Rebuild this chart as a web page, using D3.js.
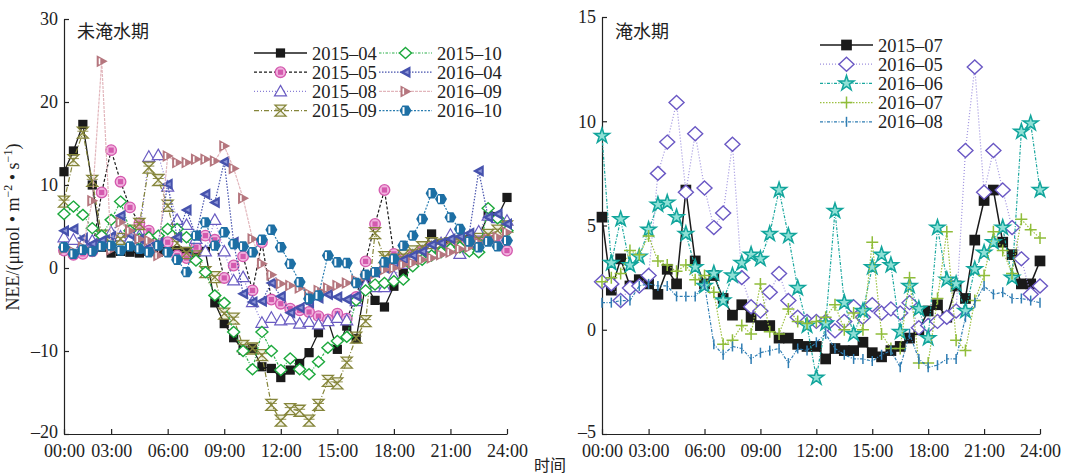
<!DOCTYPE html>
<html>
<head>
<meta charset="utf-8">
<title>NEE diurnal</title>
<script src="https://d3js.org/d3.v7.min.js"></script>
<style>
body { margin: 0; background: #fff; }
text { font-family: "Liberation Serif", "Times New Roman", serif; fill: #222; }
.cjk { font-family: "Noto Sans CJK SC", sans-serif; }
.axis path, .axis line { stroke: #222; stroke-width: 1.2; }
.axis text { font-size: 18px; }
</style>
</head>
<body>
<svg id="chart" width="1066" height="476"></svg>
<script>
// half-hourly observations, 00:30 .. 24:00
var halfHours = d3.range(1, 49).map(function (k) { return k / 2; });
var xTickHours = [0.5, 3, 6, 9, 12, 15, 18, 21, 24];
var xTickLabels = ["00:00", "03:00", "06:00", "09:00", "12:00", "15:00", "18:00", "21:00", "24:00"];
var leftYTicks = [-20, -10, 0, 10, 20, 30];
var rightYTicks = [-5, 0, 5, 10, 15];

// 未淹水期
var leftNames = ["2015–04", "2015–05", "2015–08", "2015–09", "2015–10", "2016–04", "2016–09", "2016–10"];
var nee201504 = [11.6,14.1,17.3,10.0,2.5,1.8,2.0,1.9,1.8,2.0,1.9,2.0,2.1,2.0,1.9,2.0,-4.2,-6.7,-8.4,-9.9,-9.7,-11.9,-12.1,-13.2,-12.3,-11.5,-10.2,-7.8,-6.3,-9.8,-7.0,-8.5,-2.0,-3.9,-4.7,-2.2,-0.5,1.0,2.0,4.1,2.8,3.2,3.0,3.4,3.8,6.3,6.2,8.5];
var nee201505 = [2.1,1.6,1.7,2.0,9.1,14.2,10.4,7.3,5.4,4.5,3.5,3.1,1.5,1.2,2.5,3.9,3.4,-1.2,0.3,1.4,-2.7,3.1,-3.8,-4.3,-4.9,-5.1,-5.3,-5.8,-6.2,-5.5,-6.1,-3.5,0.8,5.3,9.4,1.7,1.0,1.5,2.0,2.5,2.0,2.5,3.0,3.2,3.5,3.4,3.3,2.1];
var nee201508 = [3.7,3.4,3.0,3.3,3.8,4.3,3.8,3.5,3.9,13.4,13.6,9.8,5.8,5.2,3.5,2.0,5.8,2.0,-1.5,-1.1,-4.1,-6.6,-6.0,-6.3,-6.2,-6.7,-6.5,-6.8,-6.4,-6.0,-6.3,-4.0,-2.0,-2.3,-2.3,-1.0,0.5,1.5,2.0,2.5,3.0,4.0,1.7,2.5,4.4,6.3,6.0,5.7];
var nee201509 = [8.0,13.0,16.3,10.5,3.9,3.0,3.5,4.5,5.3,12.1,10.6,7.5,3.0,1.8,1.4,-0.5,-1.1,-5.5,-6.1,-9.4,-9.7,-10.5,-16.5,-18.4,-17.0,-17.2,-18.4,-16.5,-13.6,-13.9,-11.4,-8.4,-6.4,4.2,1.3,1.0,1.5,2.0,2.5,3.0,2.8,3.0,3.2,3.0,3.5,4.0,4.5,5.0];
var nee201510 = [6.5,7.4,6.4,4.8,3.9,5.8,8.0,4.5,3.5,3.7,3.9,4.7,4.7,3.7,0.9,-0.5,-3.3,-4.2,-7.7,-10.0,-12.2,-7.7,-10.0,-12.3,-10.9,-12.2,-12.8,-11.3,-9.6,-8.8,-8.3,-3.9,-2.7,-2.0,-1.8,-1.6,-1.4,0.2,1.0,1.5,1.9,2.3,2.5,2.0,1.9,7.2,6.0,4.5];
var nee201604 = [4.5,4.7,3.6,2.9,3.3,3.8,6.3,4.0,3.5,2.5,3.0,10.1,3.7,7.0,3.9,8.9,7.9,12.8,3.1,-3.1,-4.1,-4.0,-1.8,-3.4,-5.4,-4.8,-4.2,-3.6,-3.2,-3.5,-3.8,-3.4,-1.0,-0.5,0.0,0.5,1.0,1.5,2.0,2.8,3.0,3.5,3.8,4.2,11.7,6.1,6.5,5.3];
var nee201609 = [2.3,2.0,2.5,8.1,24.9,2.2,5.5,4.5,3.5,3.3,1.5,13.5,12.7,12.7,13.1,13.1,12.9,14.7,12.0,8.4,3.5,0.5,-0.8,-1.9,-2.1,-2.4,-3.1,-2.7,-2.4,-2.1,-1.8,-1.5,-1.0,-0.7,-0.2,0.0,0.4,0.6,1.0,1.2,1.6,1.9,2.3,2.5,3.0,3.4,3.7,4.3];
var nee201610 = [2.5,1.7,2.2,2.0,2.6,2.7,2.1,2.6,2.3,1.9,2.7,1.9,1.0,-0.5,3.9,5.5,2.7,4.3,2.9,2.6,1.9,3.4,4.6,2.5,0.5,-1.7,-3.7,-3.3,1.5,0.7,0.6,-1.8,-0.8,-0.5,0.7,1.1,2.7,3.9,5.9,9.0,8.3,6.1,4.7,3.2,2.5,3.2,2.6,3.3];

// 淹水期
var rightNames = ["2015–07", "2016–05", "2016–06", "2016–07", "2016–08"];
var nee201507 = [5.4,1.9,3.4,2.1,2.4,2.2,1.7,2.9,2.2,6.7,3.3,2.2,2.6,1.5,0.7,1.2,0.6,0.2,0.2,-0.4,-0.4,-0.7,-0.8,-0.8,-1.4,-0.9,-1.0,-1.0,-0.6,-1.1,-1.3,-1.0,-0.8,-0.4,0.0,0.9,1.2,0.6,2.1,1.5,4.3,6.2,6.7,4.2,3.6,2.2,2.2,3.3];
var nee201605 = [2.3,2.2,1.4,2.0,2.1,2.6,7.5,9.0,10.9,6.6,9.4,6.8,4.9,5.6,8.9,2.5,1.1,0.9,1.8,2.7,1.4,0.6,0.4,0.4,0.4,-0.05,0.4,1.1,0.6,1.2,0.8,1.0,0.8,1.3,0.1,0.2,0.4,0.6,0.9,8.6,12.6,6.6,8.6,6.7,4.9,3.4,1.7,2.1];
var nee201606 = [9.3,3.2,5.3,3.1,3.5,4.8,6.0,6.1,5.4,4.6,3.0,2.1,2.7,1.4,2.6,3.2,3.6,3.4,4.6,6.7,4.5,2.0,0.2,-2.3,0.3,5.7,1.3,-0.2,0.9,3.0,3.6,3.1,-0.1,2.1,1.0,-0.4,4.9,2.4,2.2,0.9,2.9,3.7,4.2,4.9,2.5,9.5,9.9,6.7];
var nee201607 = [2.3,2.5,2.7,3.8,3.6,4.5,3.3,3.1,2.8,3.1,2.4,2.6,1.8,-0.7,-0.5,0.2,-0.2,2.2,-0.1,-0.2,1.0,0.4,0.3,0.4,0.6,1.2,0.0,0.8,0.0,4.2,-0.2,-0.9,-0.9,2.5,-1.6,-1.6,1.5,4.7,-0.5,-1.0,1.4,2.6,4.7,3.8,2.7,5.3,4.8,4.4];
var nee201608 = [1.3,1.3,1.4,1.4,2.1,2.2,2.1,2.1,1.6,1.6,1.6,2.2,-0.7,-1.2,-0.8,-0.9,-1.4,-1.1,-1.0,-0.9,-1.6,-0.9,-1.0,-0.6,-0.2,-0.9,-1.2,-1.4,-1.4,-1.5,-1.2,-1.0,-1.8,-0.2,-1.4,-1.8,-1.7,-1.4,-1.4,0.6,1.3,2.1,1.7,1.8,1.5,1.5,1.4,1.3];

var svg = d3.select("#chart");

// marker shapes
function drawMarker(g, kind) {
  if (kind == "square") {
    g.append("path").attr("d", d3.symbol(d3.symbolSquare, 85)()).attr("fill", "#1a1a1a");
  } else if (kind == "bigsquare") {
    g.append("path").attr("d", d3.symbol(d3.symbolSquare, 115)()).attr("fill", "#1a1a1a");
  } else if (kind == "circle") {
    g.append("circle").attr("r", 5.3).attr("fill", "#f2b3df").attr("stroke", "#d45aae").attr("stroke-width", 1.3);
    g.append("rect").attr("x", -2.6).attr("y", -2.6).attr("width", 5.2).attr("height", 5.2).attr("fill", "#d45aae");
  } else if (kind == "triup") {
    g.append("path").attr("d", "M0,-6L6,4.5L-6,4.5Z").attr("fill", "#fff").attr("stroke", "#6a5cc2").attr("stroke-width", 1.2);
  } else if (kind == "hourglass") {
    g.append("path").attr("d", "M-5.5,-5.5L5.5,-5.5L-5.5,5.5L5.5,5.5Z").attr("fill", "rgba(170,170,90,0.18)")
      .attr("stroke", "#85853a").attr("stroke-width", 1.3);
    g.append("path").attr("d", "M-5.5,-1.5L5.5,-1.5").attr("stroke", "#85853a").attr("stroke-width", 0.9);
  } else if (kind == "diamond") {
    g.append("path").attr("d", "M0,-5.5L6,0L0,5.5L-6,0Z").attr("fill", "#fff").attr("stroke", "#1ca83c").attr("stroke-width", 1.4);
  } else if (kind == "trileft") {
    g.append("path").attr("d", "M-6,0L5,-6L5,6Z").attr("fill", "#4652ad");
    g.append("path").attr("d", "M-1,0L3,-2L3,2Z").attr("fill", "#8d95d6");
  } else if (kind == "triright") {
    g.append("path").attr("d", "M6,0L-5,-6L-5,6Z").attr("fill", "#b5767e");
    g.append("rect").attr("x", -3).attr("y", -3).attr("width", 1.6).attr("height", 6).attr("fill", "#fff");
  } else if (kind == "hex") {
    g.append("path").attr("d", "M-3,-5.2L3,-5.2L6,0L3,5.2L-3,5.2L-6,0Z").attr("fill", "#1d6fa4");
    g.append("path").attr("d", "M-3,-3.5L-1,-3.5L-1,3.5L-3,3.5Z").attr("fill", "#fff");
  } else if (kind == "bigdiamond") {
    g.append("path").attr("d", "M0,-7L7.5,0L0,7L-7.5,0Z").attr("fill", "#fff").attr("stroke", "#6a58c4").attr("stroke-width", 1.4);
  } else if (kind == "star") {
    g.append("path").attr("d", d3.symbol(d3.symbolStar, 70)()).attr("fill", "#8fe0d6").attr("stroke", "#12a59c").attr("stroke-width", 1.5);
  } else if (kind == "plus") {
    g.append("path").attr("d", "M-6,0L6,0M0,-6L0,6").attr("stroke", "#90bd3a").attr("stroke-width", 1.5);
  } else if (kind == "vbar") {
    g.append("path").attr("d", "M0,-5L0,5").attr("stroke", "#2f7db3").attr("stroke-width", 1.5);
  }
}

function drawPanel(p) {
  var x = d3.scaleLinear().domain([0.5, 24]).range([p.x0, p.x1]);
  var y = d3.scaleLinear().domain(p.yDomain).range([p.yBot, p.yTop]);

  svg.append("g").attr("class", "axis")
    .attr("transform", "translate(" + p.x0 + ",0)")
    .call(d3.axisLeft(y).tickValues(p.yTicks).tickSize(-5).tickSizeOuter(0).tickPadding(6)
      .tickFormat(function (d) { return d < 0 ? "–" + Math.abs(d) : d; }))
    .selectAll("text").style("font-family", "Liberation Serif")
    .attr("dy", function (d) { return d == p.yDomain[0] ? "0.2em" : "0.32em"; });

  svg.append("g").attr("class", "axis")
    .attr("transform", "translate(0," + p.yBot + ")")
    .call(d3.axisBottom(x).tickValues(xTickHours).tickSize(-5).tickSizeOuter(0).tickPadding(10)
      .tickFormat(function (d, i) { return xTickLabels[i]; }))
    .selectAll("text").style("font-family", "Liberation Serif");

  var line = d3.line()
    .x(function (d) { return x(d.h); })
    .y(function (d) { return y(d.v); });

  p.series.forEach(function (s) {
    var pts = s.values.map(function (v, i) { return { h: halfHours[i], v: v }; });
    svg.append("path").datum(pts)
      .attr("d", line)
      .attr("fill", "none")
      .attr("stroke", s.line)
      .attr("stroke-width", s.width || 1.2)
      .attr("stroke-dasharray", s.dash);
    svg.append("g").selectAll("g")
      .data(pts).enter().append("g")
      .attr("transform", function (d) { return "translate(" + x(d.h) + "," + y(d.v) + ")"; })
      .each(function () { drawMarker(d3.select(this), s.marker); });
  });

  // legend
  p.series.forEach(function (s, i) {
    var col = Math.floor(i / p.legend.rows);
    var row = i % p.legend.rows;
    var lx = p.legend.x[col];
    var ly = p.legend.y + row * p.legend.dy;
    svg.append("line").attr("x1", lx).attr("x2", lx + 53).attr("y1", ly).attr("y2", ly)
      .attr("stroke", s.line).attr("stroke-width", s.width || 1.2).attr("stroke-dasharray", s.dash);
    drawMarker(svg.append("g").attr("transform", "translate(" + (lx + 26.5) + "," + ly + ")"), s.marker);
    svg.append("text").attr("x", lx + 58).attr("y", ly + 6.5)
      .style("font-size", "18.5px").text(s.name);
  });

  svg.append("text").attr("class", "cjk")
    .attr("x", p.titleX).attr("y", 38)
    .style("font-size", "18px").text(p.title);
}

var leftValues = [nee201504, nee201505, nee201508, nee201509, nee201510, nee201604, nee201609, nee201610];
var leftStyle = [
  { marker: "square", line: "#1a1a1a", dash: null, width: 1.3 },
  { marker: "circle", line: "#1a1a1a", dash: "3,2" },
  { marker: "triup", line: "#8a7fd6", dash: "1,2" },
  { marker: "hourglass", line: "#85853a", dash: "5,2,1,2" },
  { marker: "diamond", line: "#2bb04a", dash: "2.5,1.5,1,1.5" },
  { marker: "trileft", line: "#4652ad", dash: "1.5,1.5" },
  { marker: "triright", line: "#e2b6bc", dash: "3,1" },
  { marker: "hex", line: "#2a7db0", dash: "2,1.5" }
];
drawPanel({
  x0: 64, x1: 507, yTop: 19, yBot: 434,
  yDomain: [-20, 30], yTicks: leftYTicks,
  title: "未淹水期", titleX: 77,
  legend: { x: [254, 379], y: 53, dy: 19.2, rows: 4 },
  series: leftNames.map(function (n, i) {
    return Object.assign({ name: n, values: leftValues[i] }, leftStyle[i]);
  })
});

var rightValues = [nee201507, nee201605, nee201606, nee201607, nee201608];
var rightStyle = [
  { marker: "bigsquare", line: "#1a1a1a", dash: null, width: 1.5 },
  { marker: "bigdiamond", line: "#9d90de", dash: "1,2" },
  { marker: "star", line: "#1aa79e", dash: "3,1.5,1,1.5" },
  { marker: "plus", line: "#9cc040", dash: "1.5,1.5" },
  { marker: "vbar", line: "#2f7db3", dash: "3,1.5,1,1.5" }
];
drawPanel({
  x0: 602, x1: 1040, yTop: 17, yBot: 434,
  yDomain: [-5, 15], yTicks: rightYTicks,
  title: "淹水期", titleX: 615,
  legend: { x: [820], y: 45, dy: 19.2, rows: 5 },
  series: rightNames.map(function (n, i) {
    return Object.assign({ name: n, values: rightValues[i] }, rightStyle[i]);
  })
});

// axis titles
var yl = svg.append("text")
  .attr("transform", "translate(19,227) rotate(-90)")
  .attr("text-anchor", "middle")
  .style("font-size", "18px");
yl.append("tspan").text("NEE/(μmol • m");
yl.append("tspan").attr("dy", -7).style("font-size", "12px").text("−2");
yl.append("tspan").attr("dy", 7).text(" • s");
yl.append("tspan").attr("dy", -7).style("font-size", "12px").text("−1");
yl.append("tspan").attr("dy", 7).text(")");

svg.append("text").attr("class", "cjk")
  .attr("x", 550).attr("y", 471)
  .attr("text-anchor", "middle")
  .style("font-size", "16px").text("时间");
</script>
</body>
</html>
